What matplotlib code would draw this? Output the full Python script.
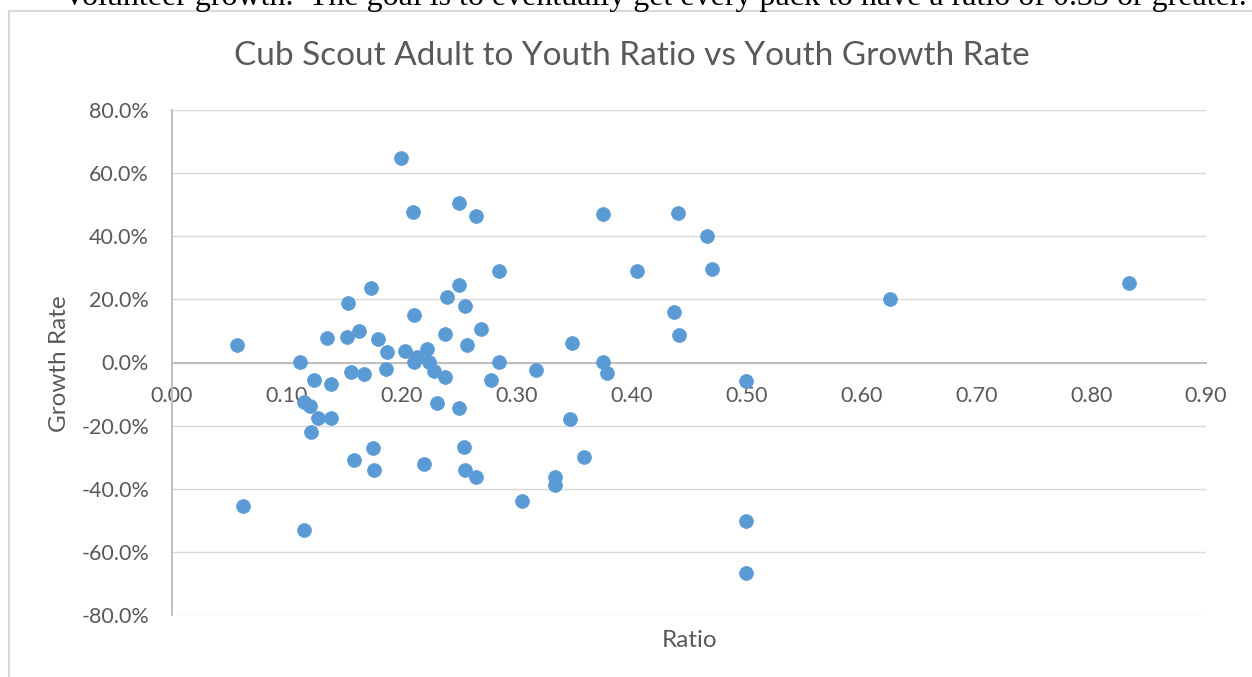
import matplotlib
matplotlib.use("Agg")
import matplotlib.pyplot as plt
from matplotlib.lines import Line2D
from matplotlib.ticker import FuncFormatter, MultipleLocator

# adult to youth ratio per pack
ratio = [0.199, 0.210, 0.250, 0.265, 0.173, 0.250, 0.239, 0.153, 0.255, 0.211,
         0.285, 0.057, 0.135, 0.152, 0.163, 0.179, 0.238, 0.269, 0.257, 0.187,
         0.203, 0.222, 0.213, 0.211, 0.224, 0.111, 0.285, 0.228, 0.238, 0.124,
         0.138, 0.156, 0.167, 0.186, 0.278, 0.375, 0.440, 0.466, 0.405, 0.470,
         0.437, 0.441, 0.348, 0.317, 0.375, 0.379, 0.500, 0.346, 0.359, 0.333,
         0.333, 0.305, 0.500, 0.500, 0.625, 0.833, 0.115, 0.120, 0.127, 0.138,
         0.121, 0.062, 0.115, 0.175, 0.158, 0.176, 0.219, 0.231, 0.250, 0.254,
         0.255, 0.265]
# youth growth rate, percent
growth = [64.7, 47.6, 50.5, 46.4, 23.6, 24.5, 20.7, 18.8, 17.9, 15.0,
          29.0, 5.5, 7.8, 8.1, 10.0, 7.4, 9.0, 10.6, 5.5, 3.3,
          3.6, 4.3, 1.7, 0.2, 0.2, 0.2, 0.2, -2.7, -4.6, -5.5,
          -6.8, -3.0, -3.6, -2.1, -5.5, 47.0, 47.3, 40.0, 29.0, 29.6,
          16.0, 8.7, 6.2, -2.4, 0.2, -3.3, -5.9, -17.9, -29.9, -36.2,
          -38.8, -43.8, -50.2, -66.6, 20.0, 25.3, -12.5, -13.8, -17.6, -17.6,
          -22.0, -45.4, -53.0, -27.1, -30.9, -34.0, -32.1, -12.8, -14.4, -26.7,
          -34.0, -36.2]

title = "Cub Scout Adult to Youth Ratio vs Youth Growth Rate"
above = "Volunteer growth.  The goal is to eventually get every pack to have a ratio of 0.33 or greater."

W, H = 1252, 677
grey = "#595959"
font = ["Lato", "DejaVu Sans"]

fig = plt.figure(figsize=(W / 100, H / 100), dpi=100)
ax = fig.add_axes([172 / W, 1 - 615 / H, (1206 - 172) / W, (615 - 110) / H])

ax.scatter(ratio, growth, s=100, color="#5B9BD5", edgecolors="#5B9BD5",
           linewidths=0.5, zorder=3)

ax.set_xlim(0, 0.9)
ax.set_ylim(-80, 80)
ax.xaxis.set_major_locator(MultipleLocator(0.1))
ax.yaxis.set_major_locator(MultipleLocator(20))
ax.xaxis.set_major_formatter(FuncFormatter(lambda v, p: f"{v:.2f}"))
ax.yaxis.set_major_formatter(FuncFormatter(lambda v, p: f"{v:.1f}%"))

ax.grid(axis="y", color="#d9d9d9", lw=1.0, zorder=0)
for s in ["top", "right"]:
    ax.spines[s].set_visible(False)
ax.spines["bottom"].set_position(("data", 0))
ax.spines["bottom"].set_color("#bfbfbf")
ax.spines["bottom"].set_linewidth(1.4)
ax.spines["left"].set_color("#bfbfbf")
ax.spines["left"].set_linewidth(1.4)
ax.tick_params(axis="x", length=0, pad=17, labelsize=15.5, labelcolor=grey)
ax.tick_params(axis="y", length=0, pad=16.5, labelsize=15.5, labelcolor=grey)
for lab in ax.get_xticklabels() + ax.get_yticklabels():
    lab.set_family(font)

fig.text(632 / W, 1 - 65 / H, title, ha="center", va="baseline",
         fontsize=24, color=grey, family=font)
fig.text(60 / W, 1 - 364 / H, "Growth Rate", rotation=90, ha="center",
         va="center", fontsize=17.5, color=grey, family=font)
fig.text(690 / W, 1 - 647 / H, "Ratio", ha="center", va="baseline",
         fontsize=17.5, color=grey, family=font)

# chart area frame (left and top edges visible)
fig.add_artist(Line2D([9 / W, 9 / W, 1.01], [-0.01, 1 - 11 / H, 1 - 11 / H],
                      transform=fig.transFigure, color="#d9d9d9", lw=1.5))

# cut-off line of the surrounding document text
t = fig.text(63 / W, 1 - 5 / H, above, ha="left", va="baseline",
             fontsize=20, color="black", family="Liberation Serif")
fig.canvas.draw()
bb = t.get_window_extent(fig.canvas.get_renderer())
t.set_fontsize(20 * (1245 - 63) / bb.width)

fig.savefig("out.png", dpi=100, facecolor="white")
